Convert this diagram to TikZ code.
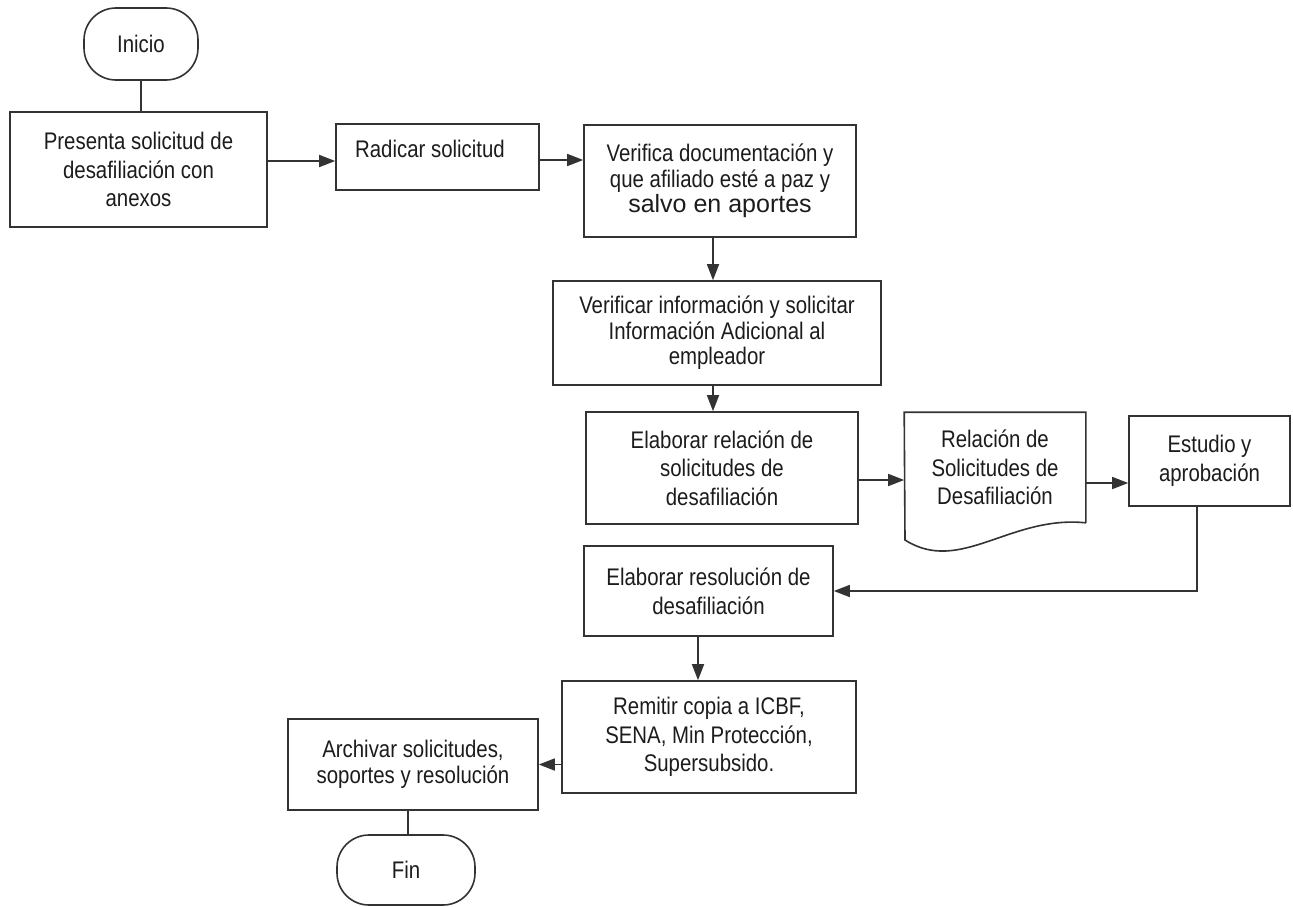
\documentclass[tikz,border=0pt]{standalone}
\usepackage{fontspec}
\setmainfont[FakeStretch=0.85]{Liberation Sans}
\newfontfamily\widefont{Liberation Sans}
\usetikzlibrary{arrows.meta,calc}
\definecolor{lncol}{HTML}{333333}
\definecolor{txcol}{HTML}{1C1C1C}
\begin{document}
\begin{tikzpicture}[x=1pt,y=-1pt,
  box/.style={draw=lncol,line width=1.6pt,rectangle,inner sep=0pt,align=center,text=txcol,font=\fontsize{24}{28.5}\selectfont},
  term/.style={box,rounded corners=32pt},
  arr/.style={draw=lncol,line width=1.6pt,-{Triangle[length=16pt,width=12pt]}},
  plain/.style={draw=lncol,line width=1.6pt}]
\useasboundingbox[fill=white] (0,0) rectangle (1293,907);

\node[term,minimum width=114pt,minimum height=72pt] (inicio) at (141,44) {Inicio};
\node[box,minimum width=257pt,minimum height=115pt] (b1) at (138.5,169.5) {Presenta solicitud de\\desafiliación con\\anexos};
\node[box,minimum width=203pt,minimum height=66pt] (b2) at (437.5,157) {};
\node[text=txcol,font=\fontsize{24}{28.5}\selectfont,inner sep=0pt] (b2t) at (430,149) {Radicar solicitud};
\node[box,minimum width=272pt,minimum height=112pt,font=\fontsize{24}{25.5}\selectfont] (b3) at (720,181) {Verifica documentación y\\que afiliado esté a paz y\\{\widefont\fontsize{25}{25.5}\selectfont salvo en aportes}};
\node[box,minimum width=328pt,minimum height=104pt,font=\fontsize{24}{25.5}\selectfont] (b4) at (717,333) {Verificar información y solicitar\\Información Adicional al\\empleador};
\node[box,minimum width=272pt,minimum height=112pt] (b5) at (722,468) {Elaborar relación de\\solicitudes de\\desafiliación};
\node[box,draw=none,minimum width=180pt,minimum height=109pt] (doc) at (995,467.5) {Relación de\\Solicitudes de\\Desafiliación};
\draw[plain] (doc.south east) -- (doc.north east) -- (doc.north west) -- (905,540) .. controls (960,575) and (1010,515) .. (doc.south east);
\node[box,minimum width=161pt,minimum height=90pt] (b6) at (1209.5,461) {Estudio y\\aprobación};
\node[box,minimum width=249pt,minimum height=90pt,font=\fontsize{24}{29}\selectfont] (b7) at (708.5,591) {Elaborar resolución de\\desafiliación};
\node[box,minimum width=294pt,minimum height=112pt] (b8) at (709,737) {Remitir copia a ICBF,\\SENA, Min Protección,\\Supersubsido.};
\node[box,minimum width=250pt,minimum height=91pt,font=\fontsize{24}{26}\selectfont] (b9) at (413,764.5) {Archivar solicitudes,\\soportes y resolución};
\node[term,minimum width=138pt,minimum height=70pt] (fin) at (406,870) {Fin};

\draw[plain] (inicio.south) -- (inicio.south |- b1.north);
\coordinate (a12) at ([yshift=-4pt]b2.west);
\draw[arr] (a12 -| b1.east) -- (a12);
\coordinate (a23) at ([yshift=-3pt]b2.east);
\draw[arr] (a23) -- (a23 -| b3.west);
\coordinate (a34) at ([xshift=-7pt]b3.south);
\draw[arr] (a34) -- (a34 |- b4.north);
\coordinate (a45) at ([xshift=-4pt]b4.south);
\draw[arr] (a45) -- (a45 |- b5.north);
\coordinate (a5d) at ([yshift=-12pt]b5.east);
\draw[arr] (a5d) -- (a5d -| doc.west);
\coordinate (ad6) at ([yshift=-22pt]b6.west);
\draw[arr] (ad6 -| doc.east) -- (ad6);
\coordinate (a67) at ([xshift=-12.5pt]b6.south);
\draw[arr] (a67) |- (b7.east);
\coordinate (a78) at ([xshift=-10.5pt]b7.south);
\draw[arr] (a78) -- (a78 |- b8.north);
\draw[arr] (b8.west |- b9.east) -- (b9.east);
\coordinate (a9f) at ([xshift=-5pt]b9.south);
\draw[plain] (a9f) -- (a9f |- fin.north);
\end{tikzpicture}
\end{document}
